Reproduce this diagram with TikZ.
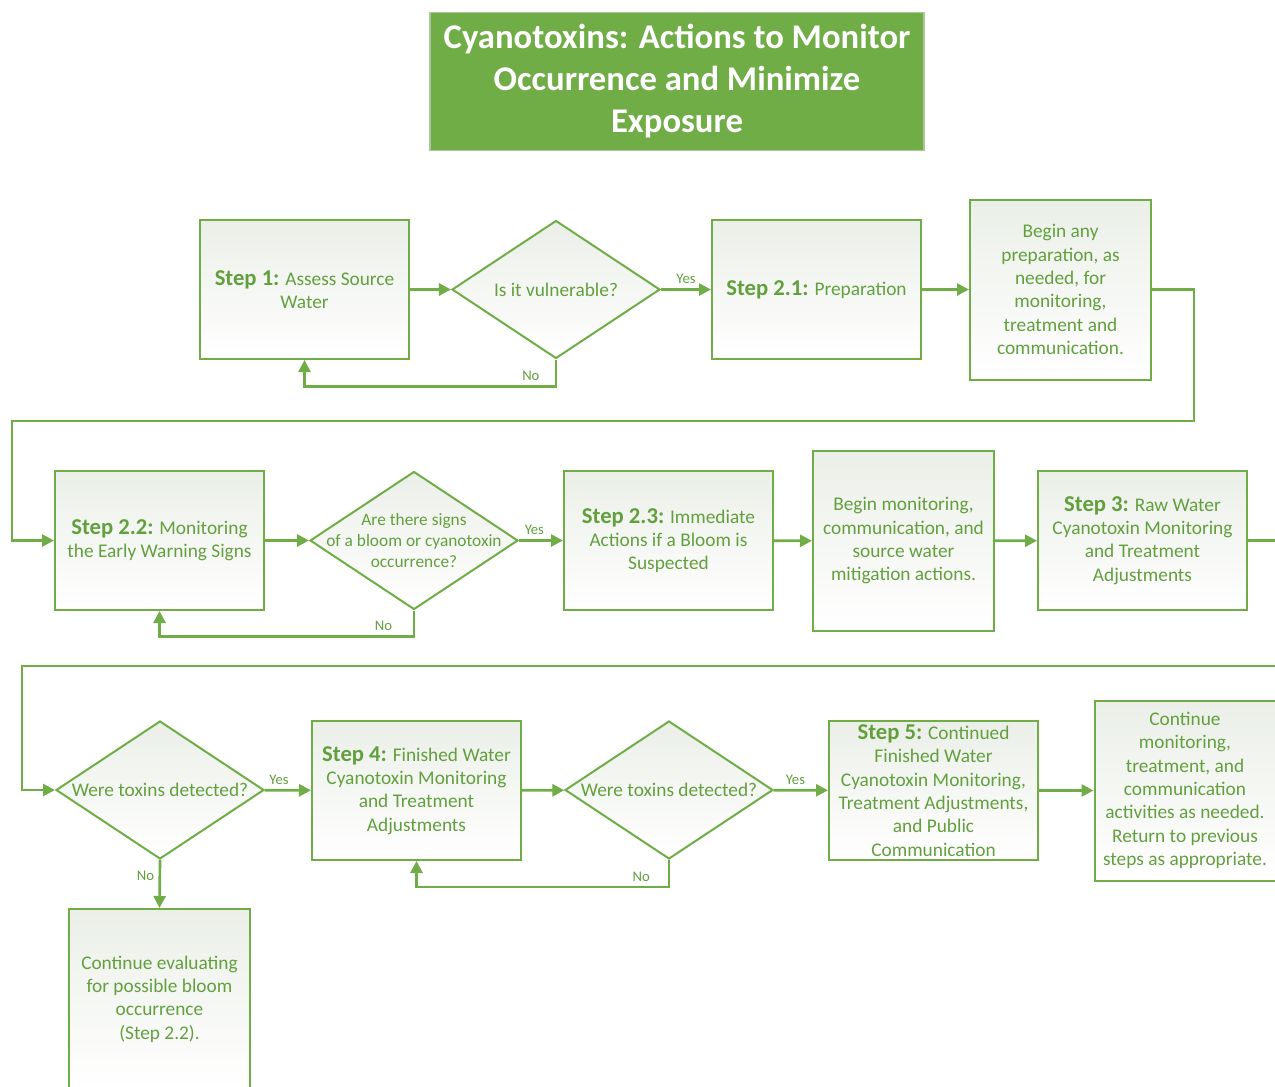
\documentclass[tikz,border=0pt]{standalone}
\usepackage{fontspec}
\setmainfont{Carlito}
\usetikzlibrary{shapes.geometric, arrows.meta, positioning}

\definecolor{flowgreen}{HTML}{70AD47}
\definecolor{textgreen}{HTML}{62A03E}
\definecolor{shadegrey}{HTML}{EBEFE8}
\definecolor{titleedge}{HTML}{A9C99A}

\tikzset{
    stepbox/.style={draw=flowgreen, line width=1.5pt, top color=shadegrey, bottom color=white,
        minimum width=156.75pt, minimum height=104.25pt, inner sep=2pt, align=center,
        text=textgreen, font=\fontsize{14.5}{17.5}\selectfont},
    notebox/.style={stepbox, minimum width=135.75pt, minimum height=135pt},
    decision/.style={diamond, draw=flowgreen, line width=1.5pt, top color=shadegrey, bottom color=white,
        minimum width=156pt, minimum height=103.5pt, inner sep=0pt},
    qtext/.style={text=textgreen, align=center, font=\fontsize{14.5}{15.5}\selectfont},
    answer/.style={text=textgreen, font=\fontsize{11}{12}\selectfont},
    flow/.style={draw=flowgreen, line width=2pt, -{Triangle[length=9pt, width=9pt]}},
}
\newcommand{\steplabel}[1]{{\fontsize{17}{17.5}\selectfont\bfseries #1}}

\begin{document}
\begin{tikzpicture}[x=0.75pt, y=-0.75pt]
    % Page frame, in pixels of the original
    \useasboundingbox (0,0) rectangle (1275,1086);
    \clip (0,0) rectangle (1275,1086);

    % Title
    \node[draw=titleedge, line width=0.8pt, fill=flowgreen, text=white, align=center,
          minimum width=370.5pt, minimum height=103.5pt,
          font=\fontsize{26}{31.5}\selectfont\bfseries] (title) at (677,81.5)
          {Cyanotoxins: Actions to Monitor\\Occurrence and Minimize\\Exposure};

    % Row 1
    \node[stepbox] (s1) at (304.5,289.5) {\steplabel{Step 1:} Assess Source\\Water};
    \node[decision, label={[qtext]center:Is it vulnerable?}] (q1) at (556,289.5) {};
    \node[stepbox] (s21) at (816.5,289.5) {\steplabel{Step 2.1:} Preparation};
    \node[notebox] (prep) at (1060.5,289.5)
        {Begin any\\preparation, as\\needed, for\\monitoring,\\treatment and\\communication.};

    % Row 2
    \node[stepbox] (s22) at (159.5,540.5) {\steplabel{Step 2.2:} Monitoring\\the Early Warning Signs};
    \node[decision, label={[qtext, font=\fontsize{13}{15.5}\selectfont]center:Are there signs\\of a bloom or cyanotoxin\\occurrence?}] (q2) at (414,540.5) {};
    \node[stepbox] (s23) at (668.5,540.5) {\steplabel{Step 2.3:} Immediate\\Actions if a Bloom is\\Suspected};
    \node[notebox] (mitig) at (903.5,541)
        {Begin monitoring,\\communication, and\\source water\\mitigation actions.};
    \node[stepbox] (s3) at (1142.5,540.5) {\steplabel{Step 3:} Raw Water\\Cyanotoxin Monitoring\\and Treatment\\Adjustments};

    % Row 3
    \node[decision, label={[qtext]center:Were toxins detected?}] (q3) at (160,790) {};
    \node[stepbox] (s4) at (416.5,790.5) {\steplabel{Step 4:} Finished Water\\Cyanotoxin Monitoring\\and Treatment\\Adjustments};
    \node[decision, label={[qtext]center:Were toxins detected?}] (q4) at (669,790) {};
    \node[stepbox] (s5) at (933.5,790.5) {\steplabel{Step 5:} Continued\\Finished Water\\Cyanotoxin Monitoring,\\Treatment Adjustments,\\and Public\\Communication};
    \node[notebox] (cont) at (1185,790.5)
        {Continue\\monitoring,\\treatment, and\\communication\\activities as needed.\\Return to previous\\steps as appropriate.};
    \node[notebox] (eval) at (159.5,999)
        {Continue evaluating\\for possible bloom\\occurrence\\(Step 2.2).};

    % Turning points of the long returns
    \coordinate (r1) at (1194,421);
    \coordinate (r2) at (12,421);
    \coordinate (r3) at (1295,666);
    \coordinate (r4) at (22,666);

    % Connectors, row 1
    \draw[flow] (s1) -- (q1);
    \draw[flow] (q1) -- node[answer, above, pos=0.5] {Yes} (s21);
    \draw[flow] (s21) -- (prep);
    \draw[flow] (q1.south) -- ++(0,27) -| node[answer, above, pos=0.05] {No} (s1.south);
    \draw[flow] (prep.east) -| (r1) -- (r2) |- (s22.west);

    % Connectors, row 2
    \draw[flow] (s22) -- (q2);
    \draw[flow] (q2) -- node[answer, above, pos=0.35] {Yes} (s23);
    \draw[flow] (s23) -- (mitig);
    \draw[flow] (mitig) -- (s3);
    \draw[flow] (q2.south) -- ++(0,26) -| node[answer, above, pos=0.06] {No} (s22.south);
    \draw[flow] (s3.east) -| (r3) -- (r4) |- (q3.west);

    % Connectors, row 3
    \draw[flow] (q3) -- node[answer, above, pos=0.31] {Yes} (s4);
    \draw[flow] (s4) -- (q4);
    \draw[flow] (q4) -- node[answer, above, pos=0.4] {Yes} (s5);
    \draw[flow] (s5) -- (cont);
    \draw[flow] (q4.south) -- ++(0,27) -| node[answer, above, pos=0.055] {No} (s4.south);
    \draw[flow] (q3.south) -- node[answer, left, pos=0.32] {No} (eval.north);
\end{tikzpicture}
\end{document}
